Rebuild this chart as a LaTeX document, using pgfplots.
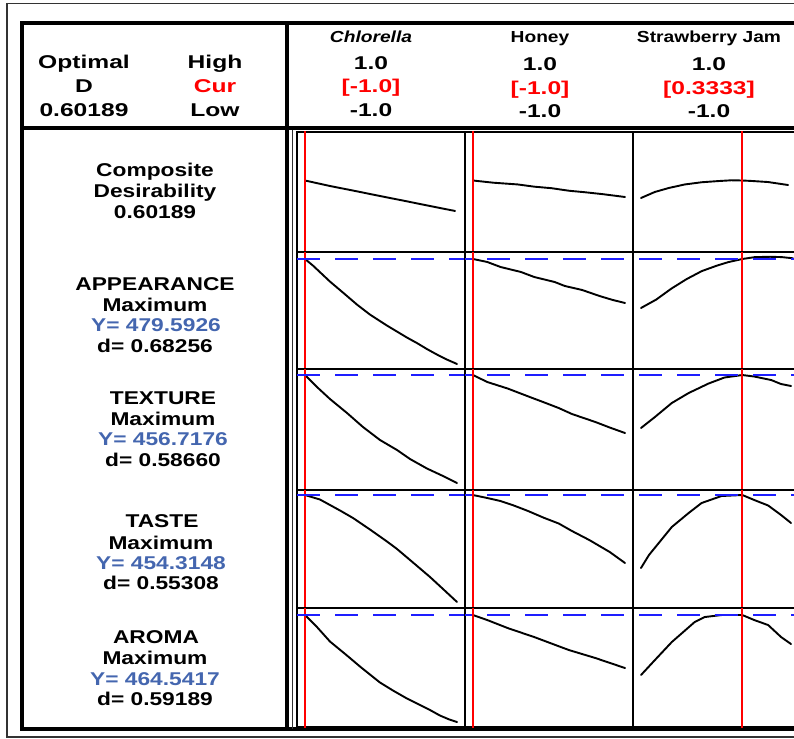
\documentclass[border=0pt]{standalone}
\usepackage{pgfplots}
\pgfplotsset{compat=1.18}
\usepackage{fontspec}
\setmainfont{Liberation Sans}[FakeStretch=1.23]
\newfontfamily\hdr{Liberation Sans}[FakeStretch=1.33]
\newfontfamily\cname{Liberation Sans}[FakeStretch=1.2]
\definecolor{tblue}{RGB}{68,102,175}
\definecolor{lblue}{RGB}{30,30,255}
\pgfplotsset{
  panel/.style={scale only axis, anchor=south west, xmin=-1.105, xmax=1.105,
    width=168pt, ticks=none, axis line style={line width=2pt}, clip=true},
  curve/.style={black, line width=1.9pt, line join=round, line cap=round, no marks},
  redl/.style={red, line width=2pt, no marks},
  bluel/.style={lblue, line width=2.2pt, no marks, dash pattern=on 23pt off 15pt, dash phase=#1},
}
\tikzset{
  body/.style={font=\bfseries\fontsize{18.5}{21}\selectfont, anchor=base, inner sep=0pt},
  hd/.style={font=\hdr\bfseries\fontsize{18.5}{21}\selectfont, anchor=base, inner sep=0pt},
  cn/.style={font=\cname\bfseries\fontsize{16}{18}\selectfont, anchor=base, inner sep=0pt},
}
\begin{document}
\begin{tikzpicture}
\begin{scope}[x=1pt,y=-1pt]
% outer thin frame
\draw[line width=1.3pt, black!80] (7,3.5) -- (810,3.5);
\draw[line width=1.3pt, black!80] (7,3) -- (7,737) -- (810,737);
% thick box
\draw[line width=3.5pt] (22,23) -- (810,23);
\draw[line width=3.5pt] (22,21.25) -- (22,730.75);
\draw[line width=3.5pt] (20.25,729) -- (810,729);
\draw[line width=3.5pt] (22,128) -- (810,128);
\draw[line width=3.5pt] (287,23) -- (287,729);
\draw[line width=1.2pt, black!80] (292.5,130) -- (292.5,729);
% header left
\node[hd] at (84,69) {Optimal};
\node[hd] at (84,92.5) {D};
\node[hd] at (84,116.5) {0.60189};
\node[hd] at (215,69) {High};
\node[hd, text=red] at (215,92.5) {Cur};
\node[hd] at (215,116.5) {Low};
% column headers
\node[cn, font=\cname\bfseries\itshape\fontsize{16}{18}\selectfont] at (371,43) {Chlorella};
\node[hd] at (371,70) {1.0};
\node[hd, text=red] at (371,93) {[-1.0]};
\node[hd] at (371,116.5) {-1.0};
\node[cn] at (540,43) {Honey};
\node[hd] at (540,71) {1.0};
\node[hd, text=red] at (540,95) {[-1.0]};
\node[hd] at (540,118) {-1.0};
\node[cn] at (709,43) {Strawberry Jam};
\node[hd] at (709,71) {1.0};
\node[hd, text=red] at (709,95) {[0.3333]};
\node[hd] at (709,118) {-1.0};
% row labels
\node[body] at (155,176) {Composite};
\node[body] at (155,197) {Desirability};
\node[body] at (155,218) {0.60189};
\node[body] at (155,290.7) {APPEARANCE};
\node[body] at (155,311.7) {Maximum};
\node[body, text=tblue] at (156,331.7) {Y= 479.5926};
\node[body] at (155,352.7) {d= 0.68256};
\node[body] at (163,404) {TEXTURE};
\node[body] at (163,425) {Maximum};
\node[body, text=tblue] at (163,445.7) {Y= 456.7176};
\node[body] at (163,466) {d= 0.58660};
\node[body] at (162,527.3) {TASTE};
\node[body] at (161,549) {Maximum};
\node[body, text=tblue] at (161,569.3) {Y= 454.3148};
\node[body] at (161,589.3) {d= 0.55308};
\node[body] at (156,643.3) {AROMA};
\node[body] at (155,664) {Maximum};
\node[body, text=tblue] at (155,685) {Y= 464.5417};
\node[body] at (155,705) {d= 0.59189};
\end{scope}

% ===== Composite row =====
\begin{axis}[panel, at={(297pt,-252pt)}, height=120pt, ymin=-0.048, ymax=1.043]
\addplot[curve] coordinates {(-1,0.602) (-0.671,0.552) (-0.342,0.507) (-0.013,0.461) (0.316,0.416) (0.645,0.370) (0.974,0.325)};
\addplot[redl] coordinates {(-1,-1) (-1,2)};
\end{axis}
\begin{axis}[panel, at={(465pt,-252pt)}, height=120pt, ymin=-0.048, ymax=1.043]
\addplot[curve] coordinates {(-1,0.602) (-0.732,0.582) (-0.409,0.566) (-0.195,0.546) (0.034,0.532) (0.262,0.509) (0.477,0.495) (0.705,0.478) (1,0.452)};
\addplot[redl] coordinates {(-1,-1) (-1,2)};
\end{axis}
\begin{axis}[panel, at={(633pt,-252pt)}, height=120pt, ymin=-0.048, ymax=1.043]
\addplot[curve] coordinates {(-1,0.443) (-0.817,0.498) (-0.634,0.534) (-0.425,0.566) (-0.203,0.586) (0.020,0.597) (0.190,0.604) (0.333,0.602) (0.451,0.598) (0.673,0.588) (0.935,0.561)};
\addplot[redl] coordinates {(0.3333,-1) (0.3333,2)};
\end{axis}

% ===== APPEARANCE =====
\begin{axis}[panel, at={(297pt,-369pt)}, height=117pt, ymin=369.59, ymax=486.59]
\addplot[curve] coordinates {(-1,479.6) (-0.895,473) (-0.671,457) (-0.5,446) (-0.316,434) (-0.145,424) (0.079,413) (0.211,407) (0.342,401) (0.474,395.5) (0.605,389.5) (0.737,384) (0.868,379) (1,374.6)};
\addplot[redl] coordinates {(-1,300) (-1,500)};
\addplot[bluel=0pt] coordinates {(-1.105,479.5926) (1.105,479.5926)};
\end{axis}
\begin{axis}[panel, at={(465pt,-369pt)}, height=117pt, ymin=369.59, ymax=486.59]
\addplot[curve] coordinates {(-1,479.6) (-0.812,476.6) (-0.638,471.6) (-0.369,466.6) (-0.195,461.6) (0.074,456.6) (0.208,452.6) (0.436,448.6) (0.664,442.6) (0.839,438.6) (1,435.6)};
\addplot[redl] coordinates {(-1,300) (-1,500)};
\addplot[bluel=16pt] coordinates {(-1.105,479.5926) (1.105,479.5926)};
\end{axis}
\begin{axis}[panel, at={(633pt,-369pt)}, height=117pt, ymin=369.59, ymax=486.59]
\addplot[curve] coordinates {(-1,430.6) (-0.8,439) (-0.6,450) (-0.4,459.5) (-0.2,467.5) (0,473) (0.15,476.5) (0.333,479.6) (0.5,481.5) (0.7,481.8) (0.85,481.5) (1,480.3)};
\addplot[redl] coordinates {(0.3333,300) (0.3333,500)};
\addplot[bluel=32pt] coordinates {(-1.105,479.5926) (1.105,479.5926)};
\end{axis}

% ===== TEXTURE =====
\begin{axis}[panel, at={(297pt,-490pt)}, height=121pt, ymin=341.72, ymax=462.72]
\addplot[curve] coordinates {(-1,456.7) (-0.842,444.7) (-0.671,432.7) (-0.447,418.7) (-0.237,404.7) (-0.013,391.7) (0.211,381.7) (0.382,372.7) (0.605,363.2) (0.816,355.7) (1,348.7)};
\addplot[redl] coordinates {(-1,300) (-1,500)};
\addplot[bluel=0pt] coordinates {(-1.105,456.7176) (1.105,456.7176)};
\end{axis}
\begin{axis}[panel, at={(465pt,-490pt)}, height=121pt, ymin=341.72, ymax=462.72]
\addplot[curve] coordinates {(-1,456.7) (-0.812,449.7) (-0.544,443.2) (-0.235,434.2) (-0.060,429.2) (0.128,423.7) (0.302,417.7) (0.611,409.7) (0.799,404.2) (1,398.7)};
\addplot[redl] coordinates {(-1,300) (-1,500)};
\addplot[bluel=16pt] coordinates {(-1.105,456.7176) (1.105,456.7176)};
\end{axis}
\begin{axis}[panel, at={(633pt,-490pt)}, height=121pt, ymin=341.72, ymax=462.72]
\addplot[curve] coordinates {(-1,403.7) (-0.817,414.7) (-0.595,428.7) (-0.373,438.7) (-0.111,448.2) (0.098,454.2) (0.333,456.7) (0.490,455.2) (0.712,451.7) (0.843,447.7) (0.974,445.7)};
\addplot[redl] coordinates {(0.3333,300) (0.3333,500)};
\addplot[bluel=32pt] coordinates {(-1.105,456.7176) (1.105,456.7176)};
\end{axis}

% ===== TASTE =====
\begin{axis}[panel, at={(297pt,-608pt)}, height=118pt, ymin=341.31, ymax=459.31]
\addplot[curve] coordinates {(-1,454.3) (-0.803,449.8) (-0.671,444.3) (-0.539,438.8) (-0.368,431.3) (-0.145,419.8) (0.079,407.8) (0.211,400.3) (0.421,386.8) (0.645,372.3) (0.816,360.3) (1,347.3)};
\addplot[redl] coordinates {(-1,300) (-1,500)};
\addplot[bluel=0pt] coordinates {(-1.105,454.3148) (1.105,454.3148)};
\end{axis}
\begin{axis}[panel, at={(465pt,-608pt)}, height=118pt, ymin=341.31, ymax=459.31]
\addplot[curve] coordinates {(-1,454.3) (-0.812,451.3) (-0.638,448.3) (-0.463,443.8) (-0.275,438.3) (-0.060,431.3) (0.128,425.8) (0.302,418.3) (0.530,409.3) (0.799,397.3) (1,386.3)};
\addplot[redl] coordinates {(-1,300) (-1,500)};
\addplot[bluel=16pt] coordinates {(-1.105,454.3148) (1.105,454.3148)};
\end{axis}
\begin{axis}[panel, at={(633pt,-608pt)}, height=118pt, ymin=341.31, ymax=459.31]
\addplot[curve] coordinates {(-1,381.3) (-0.895,394.3) (-0.595,422.3) (-0.373,436.3) (-0.203,446.3) (0.059,453.3) (0.333,454.3) (0.490,449.3) (0.673,443.8) (0.843,434.3) (0.974,426.3)};
\addplot[redl] coordinates {(0.3333,300) (0.3333,500)};
\addplot[bluel=32pt] coordinates {(-1.105,454.3148) (1.105,454.3148)};
\end{axis}

% ===== AROMA =====
\begin{axis}[panel, at={(297pt,-727pt)}, height=119pt, ymin=352.54, ymax=471.54]
\addplot[curve] coordinates {(-1,464.5) (-0.842,452.5) (-0.671,438) (-0.447,424) (-0.276,413) (-0.145,405) (-0.013,397) (0.158,389) (0.342,381) (0.474,376) (0.645,369.5) (0.776,364) (0.9,360) (1,357.5)};
\addplot[redl] coordinates {(-1,300) (-1,500)};
\addplot[bluel=0pt] coordinates {(-1.105,464.5417) (1.105,464.5417)};
\end{axis}
\begin{axis}[panel, at={(465pt,-727pt)}, height=119pt, ymin=352.54, ymax=471.54]
\addplot[curve] coordinates {(-1,464.5) (-0.812,459.5) (-0.544,451.5) (-0.195,442.5) (0.262,429.5) (0.611,421.5) (1,411.5)};
\addplot[redl] coordinates {(-1,300) (-1,500)};
\addplot[bluel=16pt] coordinates {(-1.105,464.5417) (1.105,464.5417)};
\end{axis}
\begin{axis}[panel, at={(633pt,-727pt)}, height=119pt, ymin=352.54, ymax=471.54]
\addplot[curve] coordinates {(-1,404.5) (-0.817,419.5) (-0.595,437.5) (-0.294,457.5) (-0.163,462.5) (0.059,464.5) (0.333,464.5) (0.490,459.5) (0.673,454.5) (0.843,442.5) (0.974,435.5)};
\addplot[redl] coordinates {(0.3333,300) (0.3333,500)};
\addplot[bluel=32pt] coordinates {(-1.105,464.5417) (1.105,464.5417)};
\end{axis}

\pgfresetboundingbox
\path[use as bounding box] (0pt,0pt) rectangle (794pt,-738pt);
\end{tikzpicture}
\end{document}
